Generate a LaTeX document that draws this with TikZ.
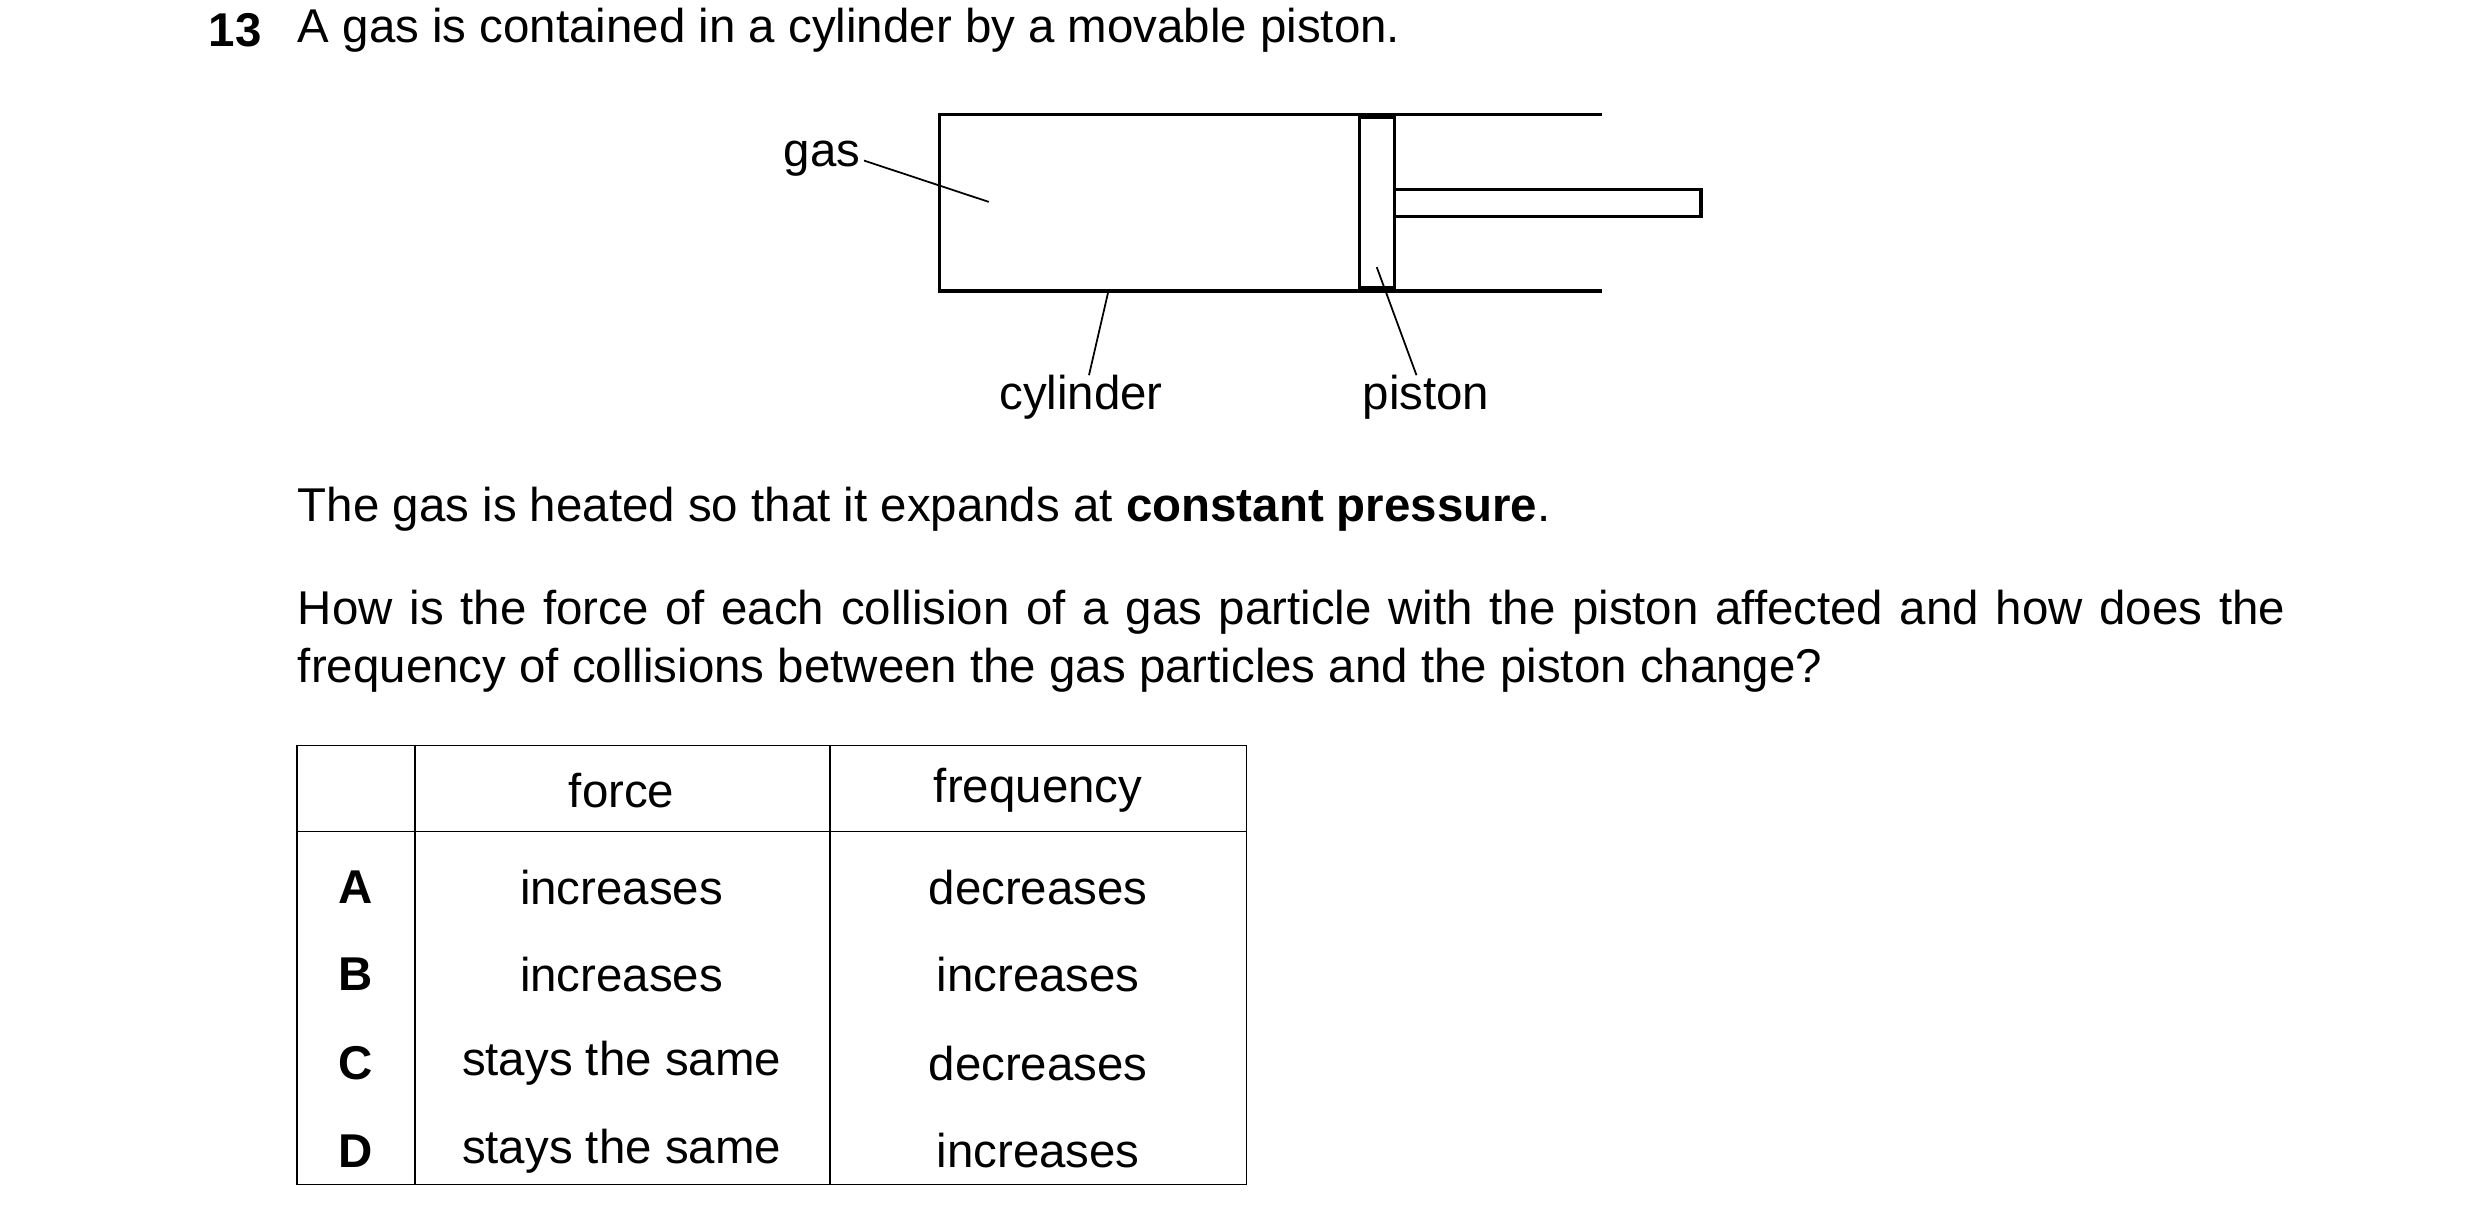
\documentclass[tikz,border=0pt]{standalone}
\usepackage{fontspec}
\setmainfont{Liberation Sans}
\begin{document}
\begin{tikzpicture}[x=0.0159cm,y=-0.0159cm,
  txt/.style={inner sep=0pt,font=\fontsize{13.5}{16}\selectfont},
  ln/.style={line width=0.9pt},
  thin/.style={line width=0.5pt}]
\useasboundingbox (0,0) rectangle (1560,767);
\node[txt,anchor=west,font=\fontsize{13.5}{16}\selectfont\bfseries] (n) at (131,19) {13};
\node[txt,anchor=west] (q) at (187,19) {A gas is contained in a cylinder by a movable piston.};
% cylinder
\draw[ln] (1008,72) -- (591,72) -- (591,183) -- (1008,183);
\draw[ln] (855,74) rectangle (877,181);
\draw[ln] (877,119) rectangle (1070,136);
\node[txt] (gas) at (517,100) {gas};
\coordinate (g1) at (622,127);
\draw[thin] (gas.east) ++(2,1) -- (g1);
\node[txt] (cyl) at (680,250) {cylinder};
\coordinate (c1) at (697,184);
\draw[thin] (c1) -- (685,236);
\node[txt] (pis) at (897,250) {piston};
\coordinate (p1) at (866,168);
\draw[thin] (p1) -- (891,236);
\node[txt,anchor=west] (t2) at (187,320) {The gas is heated so that it expands at \textbf{constant pressure}.};
\node[txt,anchor=north west,text width=1250\pgflinewidth,align=justify] (t3) at (187,371) {\parbox{19.875cm}{\fontsize{13.5}{16.5}\selectfont How is the force of each collision of a gas particle with the piston affected and how does the frequency of collisions between the gas particles and the piston change?}};
% table
\draw[thin] (187,469) rectangle (784,745);
\draw[thin] (261,469) -- (261,745);
\draw[thin] (522,469) -- (522,745);
\draw[thin] (187,523) -- (784,523);
\node[txt] (hf) at (391,497) {force};
\node[txt] (hq) at (653,497) {frequency};
\foreach \l/\f/\q/\y in {A/increases/decreases/558,B/increases/increases/613,C/stays the same/decreases/669,D/stays the same/increases/724}{
  \node[txt,font=\fontsize{13.5}{16}\selectfont\bfseries] (l\l) at (224,\y) {\l};
  \node[txt] (f\l) at (391,\y) {\f};
  \node[txt] (q\l) at (653,\y) {\q};
}
\end{tikzpicture}
\end{document}
